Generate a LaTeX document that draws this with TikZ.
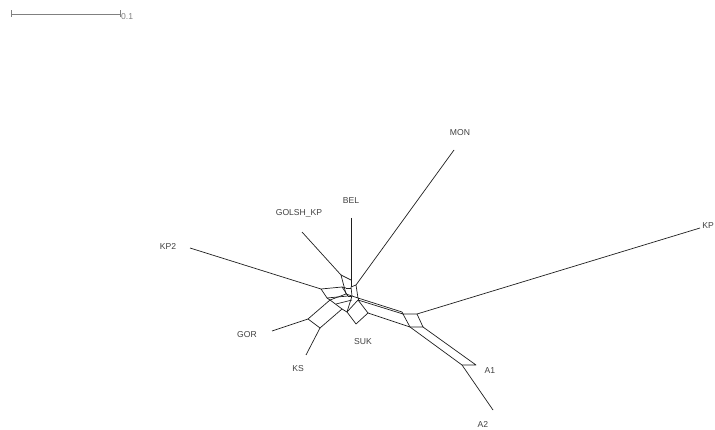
\documentclass[tikz,border=0pt]{standalone}
\usepackage{fontspec}
\setmainfont{Liberation Sans}
\begin{document}
\begin{tikzpicture}[x=1pt,y=-1pt,
  edge/.style={draw=black!88,line width=0.7pt,line join=round},
  lab/.style={text=black!75,font=\fontsize{8.6}{10}\selectfont,inner sep=0pt},
  barstyle/.style={draw=black!50,line width=0.8pt}]
\useasboundingbox (0,0) rectangle (715,430);
% scale bar
\coordinate (sb1) at (11,14);
\coordinate (sb2) at (120,14);
\draw[barstyle] (sb1) -- (sb2);
\draw[barstyle] (11,10.5) -- (11,17.5);
\draw[barstyle] (120,10.5) -- (120,17.5);
\node[lab,text=black!50,anchor=west] (sbl) at (121,17) {0.1};
% labels
\node[lab] (MON) at (460,133) {MON};
\node[lab] (KP) at (708,226) {KP};
\node[lab] (BEL) at (351,201) {BEL};
\node[lab] (GOLSH) at (299,213) {GOLSH\_KP};
\node[lab] (KP2) at (168,246) {KP2};
\node[lab] (GOR) at (247,335) {GOR};
\node[lab] (KS) at (298,369) {KS};
\node[lab] (SUK) at (363,342) {SUK};
\node[lab] (A1) at (490,371) {A1};
\node[lab] (A2) at (483,424) {A2};
% leaf coordinates
\coordinate (mon0) at (454,150);
\coordinate (kp0) at (700,228);
\coordinate (bel0) at (351,218);
\coordinate (gk0) at (302,232);
\coordinate (kp20) at (190,248);
\coordinate (gor0) at (272,331);
\coordinate (ks0) at (306,355);
\coordinate (a20) at (493,410);
% internal coordinates
\coordinate (m) at (356,285);
\coordinate (b) at (351,287);
\coordinate (h1) at (352,296);
\coordinate (h2) at (358,298);
\coordinate (g1) at (341,275);
\coordinate (g2) at (346,294);
\coordinate (k1) at (321,289);
\coordinate (k2) at (342,287);
\coordinate (k3) at (348,296);
\coordinate (k4) at (327,298);
\coordinate (o1) at (308,319);
\coordinate (o2) at (320,328);
\coordinate (o3) at (330,300);
\coordinate (o4) at (342,309);
\coordinate (s1) at (347,312);
\coordinate (s2) at (358,300);
\coordinate (s3) at (368,313);
\coordinate (s4) at (356,324);
\coordinate (p1) at (403,314);
\coordinate (p0) at (402,312);
\coordinate (p2) at (417,314);
\coordinate (p3) at (423,327);
\coordinate (p4) at (410,327);
\coordinate (a1) at (462,365);
\coordinate (a1b) at (476,365);
% leaves
\draw[edge] (mon0) -- (m);
\draw[edge] (bel0) -- (b);
\draw[edge] (gk0) -- (g1);
\draw[edge] (kp20) -- (k1);
\draw[edge] (gor0) -- (o1);
\draw[edge] (ks0) -- (o2);
\draw[edge] (kp0) -- (p2);
\draw[edge] (a1) -- (a20);
% hub box
\draw[edge] (b) -- (m) -- (h2) -- (h1) -- cycle;
% golsh box
\draw[edge] (g1) -- (g2) -- (h1);
\draw[edge] (g1) -- (351,280);
\draw[edge] (346,288) -- (351,288);
% KP2 box
\draw[edge] (k1) -- (k2) -- (k3) -- (k4) -- cycle;
\draw[edge] (k2) -- (346,288);
\draw[edge] (k3) -- (h1);
% GOR / KS strip
\draw[edge] (o1) -- (o2) -- (o4) -- (o3) -- cycle;
\draw[edge] (o3) -- (k4);
\draw[edge] (o3) -- (g2);
\draw[edge] (o4) -- (s1);
\draw[edge] (336,304) -- (352,300);
% SUK diamond
\draw[edge] (s1) -- (s2) -- (s3) -- (s4) -- cycle;
\draw[edge] (s2) -- (h2);
\draw[edge] (s1) -- (h1);
% bundle to right
\draw[edge] (h2) -- (p0) -- (p1);
\draw[edge] (s2) -- (p1);
\draw[edge] (s3) -- (p4);
% P1 box
\draw[edge] (p1) -- (p2) -- (p3) -- (p4) -- cycle;
% strip to A1
\draw[edge] (p4) -- (a1) -- (a1b) -- (p3);
\end{tikzpicture}
\end{document}
